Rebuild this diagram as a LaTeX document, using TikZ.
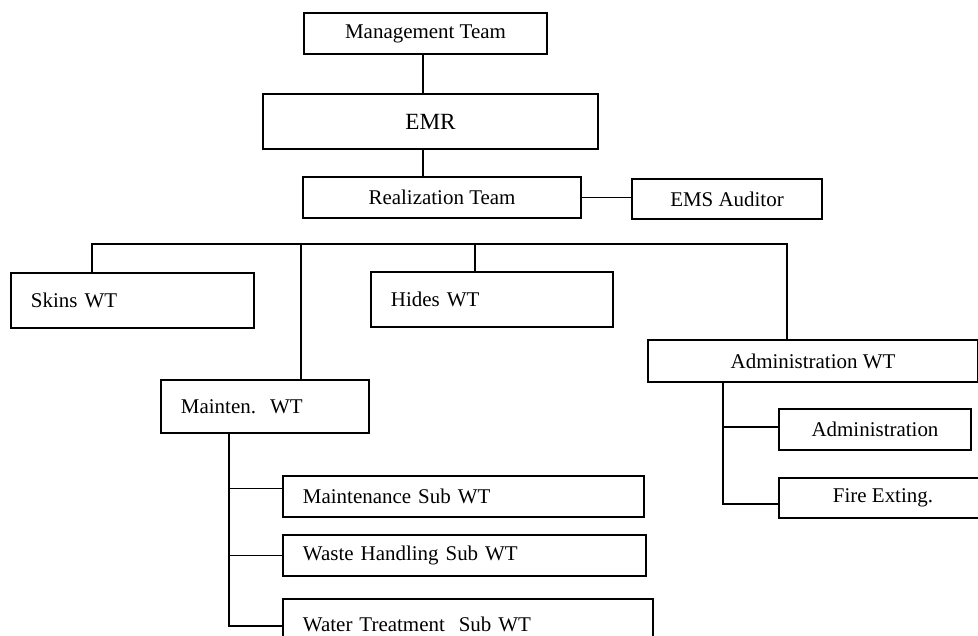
\documentclass[tikz,border=0pt]{standalone}
\usepackage{fontspec}
\setmainfont{Liberation Serif}
\usetikzlibrary{positioning}

\begin{document}
\begin{tikzpicture}[x=0.025cm,y=-0.025cm,
        teambox/.style={draw,rectangle,line width=1.4pt,anchor=north west,inner sep=0pt,
            font=\fontsize{14.9}{17}\selectfont},
        leftbox/.style={teambox,align=left,inner xsep=0.5cm},
        link/.style={line width=1.4pt}]
    \useasboundingbox (0,0) rectangle (978,636);

    % top of the chart
    \node[teambox,minimum width=6.075cm,minimum height=1.025cm] (mgmt) at (303,12) {Management Team};
    \node[teambox,minimum width=8.375cm,minimum height=1.375cm,font=\fontsize{16.5}{19}\selectfont] (emr) at (262,93) {EMR};
    \node[teambox,minimum width=6.95cm,minimum height=1.025cm] (real) at (302,176) {Realization Team};
    \node[teambox,minimum width=4.75cm,minimum height=1.0cm] (aud) at (631,178) {EMS Auditor};

    % working teams
    \node[leftbox,text width=5.075cm,minimum height=1.375cm] (skins) at (10,272) {Skins WT};
    \node[leftbox,text width=5.05cm,minimum height=1.375cm] (hides) at (370,271) {Hides WT};
    \node[leftbox,text width=4.2cm,minimum height=1.325cm] (mainten) at (160,379) {Mainten.\ \ WT};
    \node[teambox,minimum width=8.25cm,minimum height=1.05cm] (admwt) at (647,339) {Administration WT};

    \node[teambox,minimum width=4.8cm,minimum height=1.025cm] (adm) at (778,408) {Administration};
    \node[teambox,minimum width=5.2cm,minimum height=1.0cm] (fire) at (778,477) {Fire Exting.};

    \node[leftbox,text width=8.025cm,minimum height=1.025cm] (msub) at (282,475) {Maintenance Sub WT};
    \node[leftbox,text width=8.075cm,minimum height=1.025cm] (wsub) at (282,534) {Waste Handling Sub WT};
    \node[leftbox,text width=8.25cm,minimum height=1.25cm] (wtsub) at (282,598) {Water Treatment\ \ Sub WT};

    % bus and branch points
    \coordinate (trunk) at (423,0);
    \coordinate (busL) at (92,244);
    \coordinate (busM) at (301,244);
    \coordinate (busH) at (475,244);
    \coordinate (busR) at (787,244);
    \coordinate (mline) at (229,0);
    \coordinate (aline) at (723,0);
    \coordinate (msubin) at ([yshift=0.2cm]msub.west);
    \coordinate (wtsubin) at ([yshift=-0.05cm]wtsub.west);
    \coordinate (admin) at ([yshift=0.06cm]adm.west);
    \coordinate (firein) at ([yshift=-0.15cm]fire.west);

    \draw[link] (trunk |- mgmt.south) -- (trunk |- emr.north);
    \draw[link] (trunk |- emr.south) -- (trunk |- real.north);
    \draw[link] (real.east) -- (real.east -| aud.west);

    \draw[link] (busL |- skins.north) -- (busL) -- (busR) -- (busR |- admwt.north);
    \draw[link] (busM) -- (busM |- mainten.north);
    \draw[link] (busH) -- (busH |- hides.north);

    \draw[link] (mline |- mainten.south) |- (wtsubin);
    \draw[link] (mline |- msubin) -- (msubin);
    \draw[link] (mline |- wsub.west) -- (wsub.west);

    \draw[link] (aline |- admwt.south) |- (firein);
    \draw[link] (aline |- admin) -- (admin);
\end{tikzpicture}
\end{document}
